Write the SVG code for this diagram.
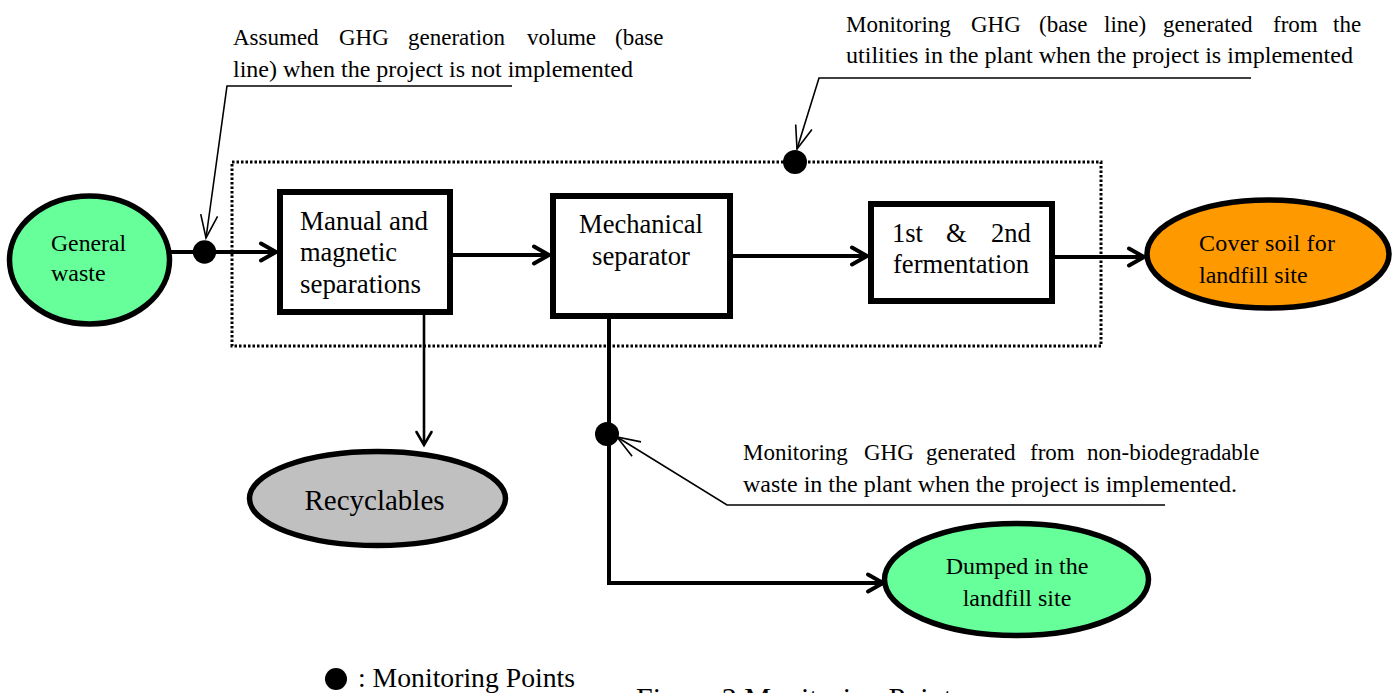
<svg xmlns="http://www.w3.org/2000/svg" width="1393" height="693" viewBox="0 0 1393 693">
<defs>
<style>
text{font-family:"Liberation Serif","Times New Roman",serif;fill:#000}
.c{font-size:23px}
.b{font-size:26.5px}
.n{font-size:24px}
.box{fill:#fff;stroke:#000;stroke-width:6}
.ell{stroke:#000;stroke-width:5.5}
.flow{fill:none;stroke:#000;stroke-width:4}
.lead{fill:none;stroke:#000;stroke-width:1.6}
.dot{fill:#000}
</style>
<marker id="ah" markerUnits="userSpaceOnUse" viewBox="-20 -12 22 24" markerWidth="22" markerHeight="24" refX="0" refY="0" orient="auto" overflow="visible">
<path d="M-15,-8.5 L0,0 L-15,8.5" fill="none" stroke="#000" stroke-width="4" stroke-linecap="round" stroke-linejoin="miter"/>
</marker>
<marker id="ahs" markerUnits="userSpaceOnUse" viewBox="-20 -12 22 24" markerWidth="22" markerHeight="24" refX="0" refY="0" orient="auto" overflow="visible">
<path d="M-13,-7.5 L0,0 L-13,7.5" fill="none" stroke="#000" stroke-width="2.6" stroke-linecap="round"/>
</marker>
<marker id="ahl" markerUnits="userSpaceOnUse" viewBox="-25 -12 27 24" markerWidth="27" markerHeight="24" refX="0" refY="0" orient="auto" overflow="visible">
<path d="M-23,-8.5 L0,0 L-23,8.5" fill="none" stroke="#000" stroke-width="1.6"/>
</marker>
</defs>
<rect width="1393" height="693" fill="#fff"/>

<g id="plant-boundary">
<rect x="232" y="162" width="869" height="184" fill="none" stroke="#000" stroke-width="3" stroke-dasharray="2.5 2"/>
</g>

<g id="connectors">
<line class="flow" x1="171" y1="252" x2="276" y2="252" marker-end="url(#ah)"/>
<line class="flow" x1="453" y1="255" x2="549" y2="255" marker-end="url(#ah)"/>
<line class="flow" x1="733" y1="256" x2="867" y2="256" marker-end="url(#ah)"/>
<line class="flow" x1="1055" y1="257" x2="1144" y2="257" marker-end="url(#ah)"/>
<line x1="424" y1="315" x2="424" y2="445" fill="none" stroke="#000" stroke-width="2.6" marker-end="url(#ahs)"/>
<polyline class="flow" points="609,319 609,583 883,583" marker-end="url(#ah)"/>
<polyline class="lead" points="512,86 227,86 206,238" marker-end="url(#ahl)"/>
<polyline class="lead" points="1251,78 819,78 797,149" marker-end="url(#ahl)"/>
<polyline class="lead" points="1165,505 727,505 617,437" marker-end="url(#ahl)"/>
</g>

<g id="monitoring-points">
<circle class="dot" cx="204.5" cy="252" r="11.7"/>
<circle class="dot" cx="795" cy="162" r="12"/>
<circle class="dot" cx="607" cy="434" r="12"/>
</g>

<g id="general-waste">
<ellipse class="ell" cx="89.5" cy="260" rx="80" ry="64" fill="#66ff99"/>
<text class="n" x="51" y="251" textLength="75" lengthAdjust="spacingAndGlyphs">General</text>
<text class="n" x="51" y="281">waste</text>
</g>

<g id="manual-separation">
<rect class="box" x="280" y="192" width="170" height="120"/>
<text class="b" x="300" y="230" textLength="128" lengthAdjust="spacingAndGlyphs">Manual and</text>
<text class="b" x="300" y="261">magnetic</text>
<text class="b" x="300" y="293" textLength="121" lengthAdjust="spacingAndGlyphs">separations</text>
</g>

<g id="mechanical-separator">
<rect class="box" x="553" y="196" width="177" height="120"/>
<text class="b" x="579" y="233" textLength="124" lengthAdjust="spacingAndGlyphs">Mechanical</text>
<text class="b" x="592" y="265" textLength="98" lengthAdjust="spacingAndGlyphs">separator</text>
</g>

<g id="fermentation">
<rect class="box" x="871" y="204" width="181" height="97"/>
<text class="b" y="242"><tspan x="892">1st</tspan><tspan x="946">&amp;</tspan><tspan x="991">2nd</tspan></text>
<text class="b" x="893" y="273" textLength="136" lengthAdjust="spacingAndGlyphs">fermentation</text>
</g>

<g id="cover-soil">
<ellipse class="ell" cx="1268" cy="254" rx="121" ry="54" fill="#ff9900"/>
<text class="n" x="1199" y="251" textLength="136" lengthAdjust="spacing">Cover soil for</text>
<text class="n" x="1199" y="283">landfill site</text>
</g>

<g id="recyclables">
<ellipse class="ell" cx="377.5" cy="498.5" rx="128" ry="47" fill="#c0c0c0"/>
<text x="374.5" y="510" font-size="29" text-anchor="middle">Recyclables</text>
</g>

<g id="dumped-landfill">
<ellipse class="ell" cx="1016.5" cy="579.5" rx="132" ry="56" fill="#66ff99"/>
<text class="n" x="1017" y="574" text-anchor="middle">Dumped in the</text>
<text class="n" x="1017" y="606" text-anchor="middle">landfill site</text>
</g>

<g id="callout-baseline">
<text class="c" y="45"><tspan x="233">Assumed</tspan><tspan x="339">GHG</tspan><tspan x="408">generation</tspan><tspan x="527">volume</tspan><tspan x="615">(base</tspan></text>
<text class="c" x="233" y="77" textLength="400" lengthAdjust="spacingAndGlyphs">line) when the project is not implemented</text>
</g>

<g id="callout-utilities">
<text class="c" y="32"><tspan x="846">Monitoring</tspan><tspan x="971">GHG</tspan><tspan x="1039">(base</tspan><tspan x="1104">line)</tspan><tspan x="1163">generated</tspan><tspan x="1273">from</tspan><tspan x="1333">the</tspan></text>
<text class="c" x="846" y="63" textLength="507" lengthAdjust="spacingAndGlyphs">utilities in the plant when the project is implemented</text>
</g>

<g id="callout-nonbio">
<text class="c" y="460"><tspan x="743">Monitoring</tspan><tspan x="864">GHG</tspan><tspan x="926">generated</tspan><tspan x="1030">from</tspan><tspan x="1087">non-biodegradable</tspan></text>
<text class="c" x="743" y="492" textLength="494" lengthAdjust="spacingAndGlyphs">waste in the plant when the project is implemented.</text>
</g>

<g id="legend">
<circle class="dot" cx="336" cy="679" r="11"/>
<text x="358" y="687" font-size="27.5" textLength="217" lengthAdjust="spacingAndGlyphs">: Monitoring Points</text>
</g>

<g id="caption">
<text x="636" y="708" font-size="30">Figure 2 Monitoring Points</text>
</g>
</svg>
